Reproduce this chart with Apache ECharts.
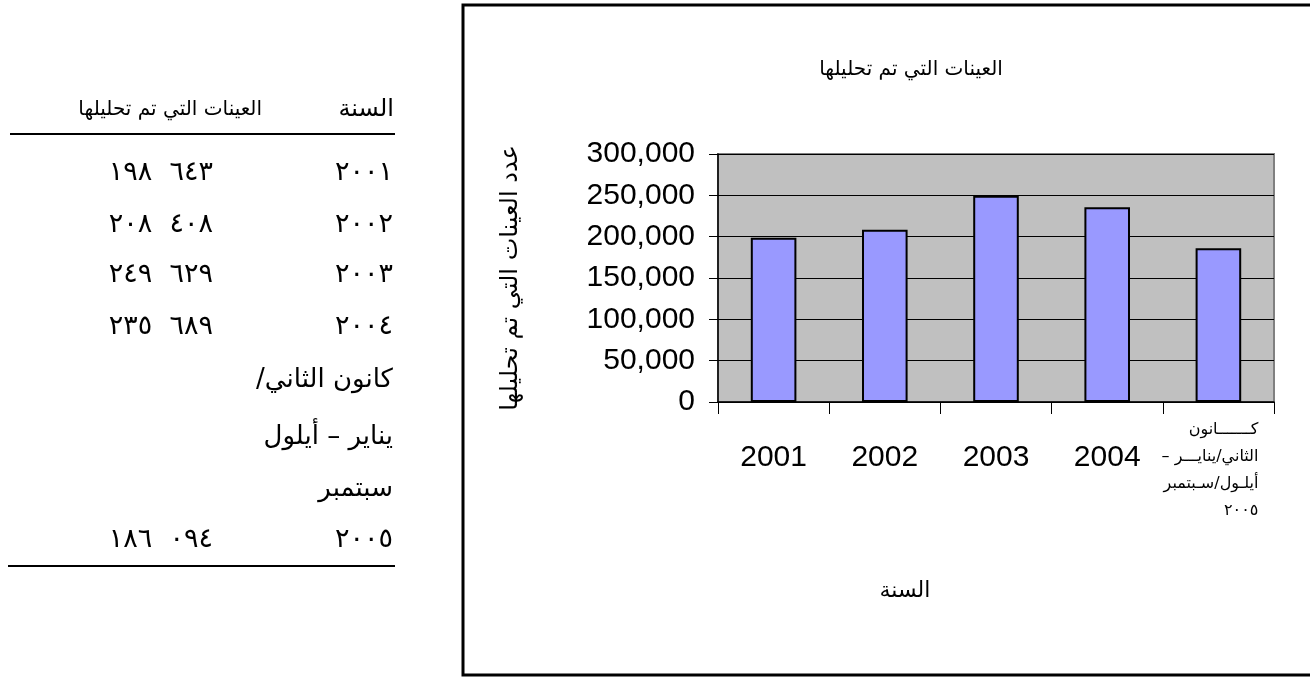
<!DOCTYPE html>
<html><head><meta charset="utf-8">
<script src="https://cdn.jsdelivr.net/npm/echarts@6/dist/echarts.min.js"></script>
<style>html,body{margin:0;padding:0;background:#fff}#c{width:1310px;height:677px}</style>
</head><body><div id="c"></div><script>
// ---- data ----
const categories = ['2001', '2002', '2003', '2004', 'كـــــــانون\nالثاني/ينايـــر –\u200F\nأيلـول/سـبتمبر\n٢٠٠٥'];
const values = [198643, 208408, 249629, 235689, 186094];
const yMin = 0, yMax = 300000, yStep = 50000;
const chartTitle = 'العينات التي تم تحليلها';
const yAxisTitle = 'عدد العينات التي تم تحليلها';
const xAxisTitle = 'السنة';
const tableHeaderYear = 'السنة';
const tableHeaderValue = 'العينات التي تم تحليلها';
const tableYears = ['2001', '2002', '2003', '2004', '2005'];
const tableNote = ['كانون الثاني/\u200F', 'يناير – أيلول', 'سبتمبر'];

// ---- helpers ----
const AR = '"DejaVu Sans"';
function ar(s) { return String(s).replace(/[0-9]/g, d => '٠١٢٣٤٥٦٧٨٩'[+d]); }
function grp(v) { const s = String(v); return ar(s.slice(0, s.length - 3)) + '\u200E  ' + ar(s.slice(-3)); }
function txt(x, y, t, size) {
  return { type: 'text', x: x, y: y, silent: true,
    style: { text: t, font: size + 'px ' + AR, fill: '#000', align: 'right', verticalAlign: 'middle' } };
}
function ln(x1, y1, x2, y2, w) {
  return { type: 'line', silent: true, shape: { x1, y1, x2, y2 }, style: { stroke: '#000', lineWidth: w } };
}

const rowY = [173, 225, 275, 327, 540];
const noteY = [380, 437, 489];
const graphics = [];
graphics.push(txt(394, 110, tableHeaderYear, 24));
graphics.push(txt(262, 110, tableHeaderValue, 20));
graphics.push(ln(10, 134, 395, 134, 2));
tableYears.forEach((y, i) => {
  graphics.push(txt(393, rowY[i], ar(y), 27));
  graphics.push(txt(213, rowY[i], grp(values[i]), 27));
});
tableNote.forEach((t, i) => graphics.push(txt(393, noteY[i], t, 26)));
graphics.push(ln(8, 566, 395, 566, 2));
graphics.push({ type: 'rect', silent: true, shape: { x: 463, y: 5, width: 950, height: 670 },
  style: { fill: 'none', stroke: '#000', lineWidth: 3 } });

const chart = echarts.init(document.getElementById('c'), null, { renderer: 'canvas' });
chart.setOption({
  animation: false,
  backgroundColor: '#fff',
  title: { text: chartTitle, left: 906, top: 55, textAlign: 'center',
    textStyle: { fontFamily: AR, fontSize: 20, fontWeight: 'normal', color: '#000' } },
  grid: { left: 718, right: 36, top: 154, bottom: 275, show: true,
    backgroundColor: '#C0C0C0', borderColor: '#808080', borderWidth: 2 },
  xAxis: {
    type: 'category', data: categories,
    name: xAxisTitle, nameLocation: 'middle', nameGap: 178,
    nameTextStyle: { fontFamily: AR, fontSize: 22, color: '#000', padding: [0, 182, 0, 0] },
    axisLine: { lineStyle: { color: '#000', width: 1.5 } },
    axisTick: { show: true, length: 12, lineStyle: { color: '#000' } },
    axisLabel: {
      interval: 0, hideOverlap: false, margin: 56, verticalAlign: 'middle',
      fontFamily: '"Liberation Sans"', fontSize: 30, color: '#000',
      formatter: (v) => v.indexOf('\n') >= 0
        ? '{s| }\n' + v.split('\n').map(s => '{n|' + s + '}').join('\n') : v,
      rich: {
        s: { fontSize: 10, lineHeight: 24, width: 104 },
        n: { fontFamily: AR, fontSize: 16, lineHeight: 27, width: 104, align: 'right', color: '#000', padding: [0, 24, 0, 0] }
      }
    }
  },
  yAxis: {
    type: 'value', min: yMin, max: yMax, interval: yStep,
    name: yAxisTitle, nameLocation: 'middle', nameGap: 195, nameRotate: 90,
    nameTextStyle: { fontFamily: AR, fontSize: 24, color: '#000' },
    axisLine: { show: true, lineStyle: { color: '#000', width: 1.5 } },
    axisTick: { show: true, length: 9, lineStyle: { color: '#000' } },
    axisLabel: { margin: 23, fontFamily: '"Liberation Sans"', fontSize: 30, color: '#000',
      formatter: (v) => v.toLocaleString('en-US') },
    splitLine: { show: true, lineStyle: { color: '#000', width: 1 } }
  },
  series: [{
    type: 'bar', data: values, barWidth: '41%',
    itemStyle: { color: '#9999FF', borderColor: '#000', borderWidth: 2 }
  }],
  graphic: graphics
});
</script></body></html>
